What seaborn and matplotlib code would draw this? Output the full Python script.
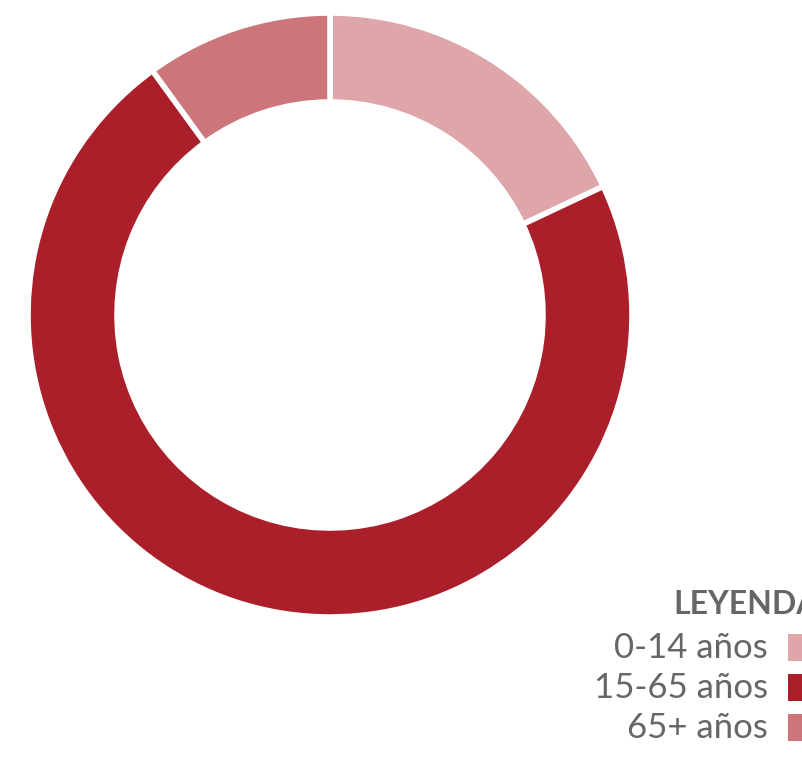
import matplotlib
matplotlib.use("Agg")
import matplotlib.pyplot as plt
from matplotlib.patches import Rectangle
import seaborn as sns

# Age structure of the population (percent)
categories = ["0-14 años", "15-65 años", "65+ años"]
shares = [18, 72, 10]
colors = ["#dfa6a9", "#ab1f2a", "#cc767b"]
legend_title = "LEYENDA"

sns.set_theme(style="white")
plt.rcParams["font.family"] = ["Lato", "DejaVu Sans"]

W, H = 802, 769
fig = plt.figure(figsize=(W / 100, H / 100), dpi=100)
fig.patch.set_facecolor("white")

# donut: centre (330, 315) px, outer radius ~302 px (white separator strokes eat ~2 px)
ax = fig.add_axes([28 / W, (H - 617) / H, 604 / W, 604 / H])
ax.pie(
    shares,
    colors=colors,
    startangle=90,
    counterclock=False,
    radius=1.0,
    wedgeprops=dict(width=89 / 302, edgecolor="white", linewidth=4),
)
ax.set_xlim(-1.0, 1.0)
ax.set_ylim(-1.0, 1.0)
ax.set_aspect("equal")
ax.axis("off")

# legend block in the lower right corner
text_color = "#666666"
fig.text(673 / W, 1 - 605 / H, legend_title, fontsize=23, fontweight="bold",
         color=text_color, ha="left", va="center")
rows_y = [648, 688, 728]
for label, color, y in zip(categories, colors, rows_y):
    fig.text(768 / W, 1 - y / H, label, fontsize=25, color=text_color,
             ha="right", va="center")
    fig.patches.append(Rectangle((788 / W, 1 - (y + 13) / H), 27 / W, 27 / H,
                                 transform=fig.transFigure, facecolor=color,
                                 edgecolor="none"))

fig.savefig("out.png", dpi=100, facecolor="white")
